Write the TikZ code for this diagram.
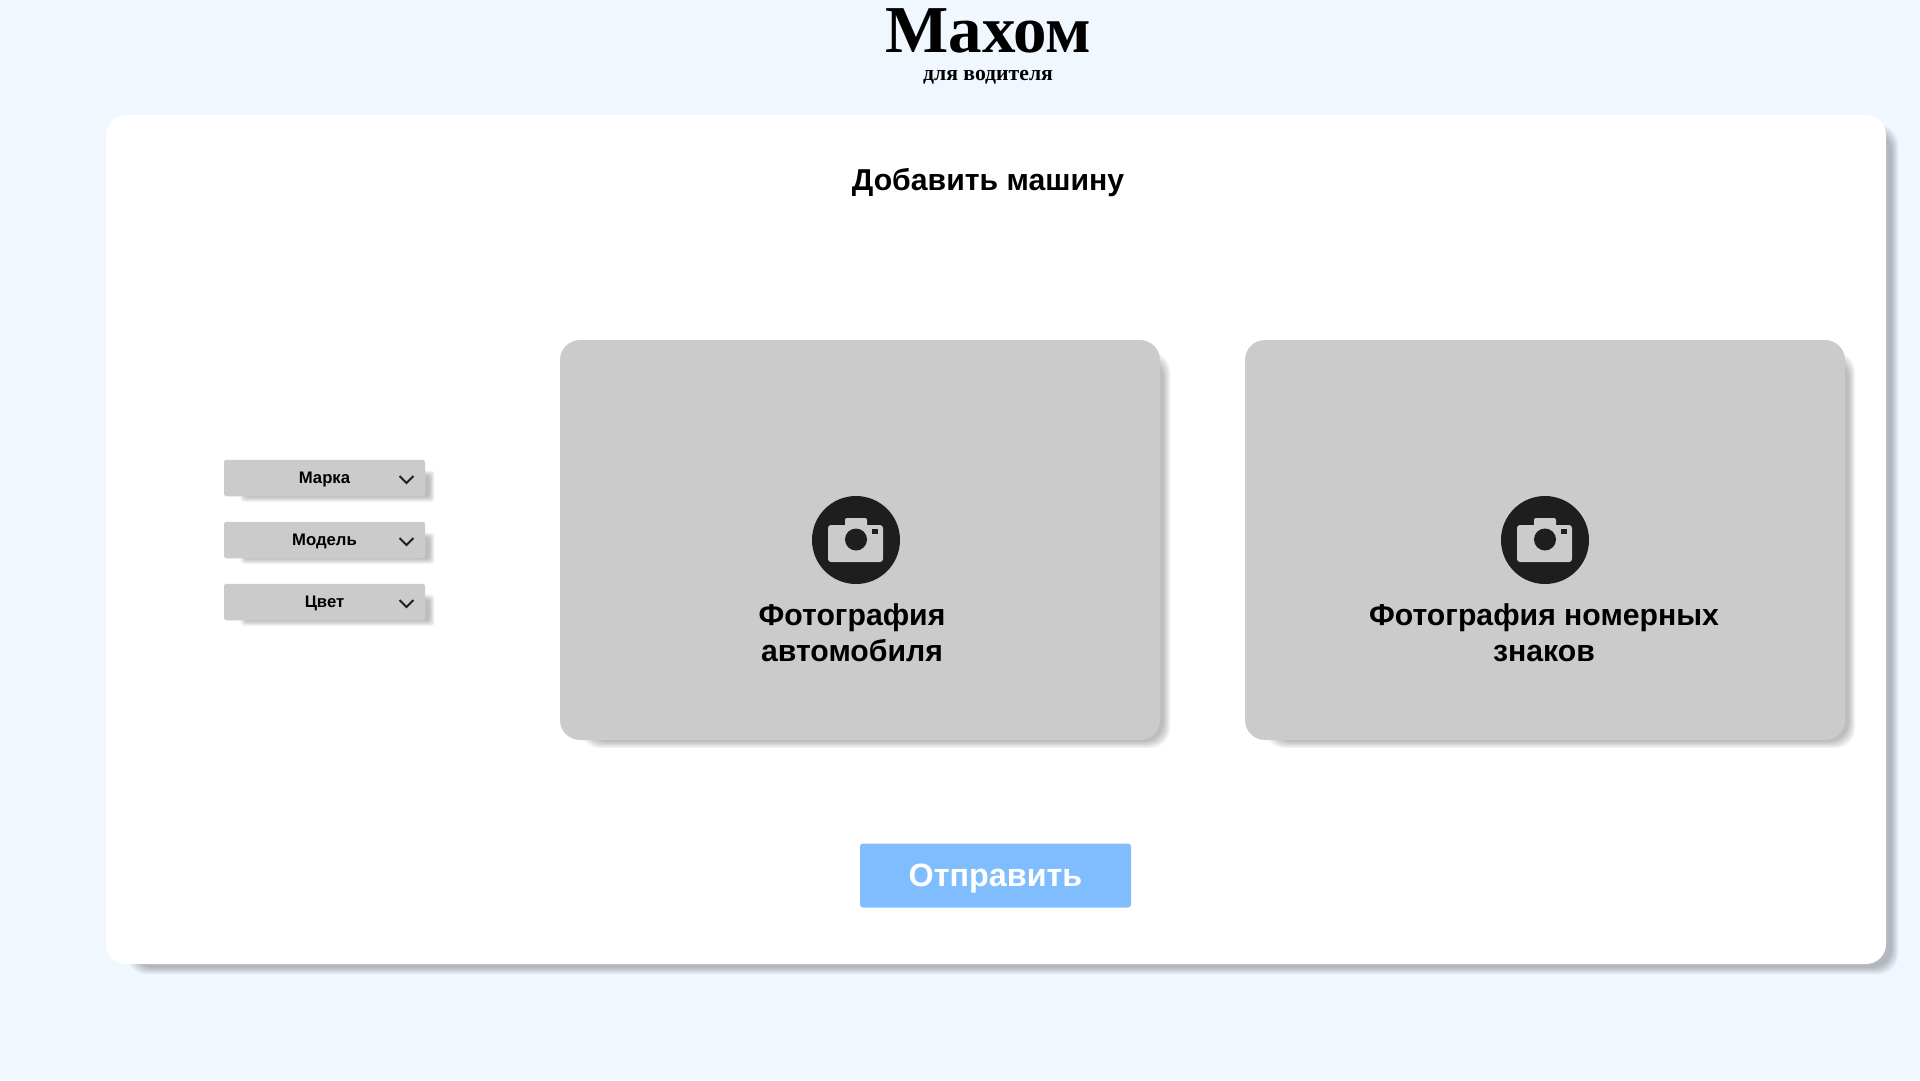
\documentclass[tikz,border=0pt]{standalone}
\usepackage{fontspec}
\setmainfont{Liberation Sans}
\newfontfamily\logofont{Liberation Serif}
\usepackage{xcolor}
\definecolor{mypage}{HTML}{F0F7FF}
\definecolor{mygrey}{HTML}{CBCBCB}
\definecolor{mydark}{HTML}{1E1E1E}
\definecolor{myblue}{HTML}{80BDFF}
\tikzset{
	panel/.style={fill=white,rounded corners=20pt,minimum width=1780pt,minimum height=849pt,inner sep=0pt},
	photobox/.style={fill=mygrey,rounded corners=20pt,minimum width=600pt,minimum height=400pt,inner sep=0pt},
	dropbox/.style={fill=mygrey,rounded corners=2.5pt,minimum width=201pt,minimum height=36.5pt,inner sep=0pt},
	sendbox/.style={fill=myblue,rounded corners=3pt,minimum width=271pt,minimum height=64pt,inner sep=0pt},
	droplabel/.style={font=\fontsize{16.7}{20}\selectfont\bfseries,inner sep=0pt},
	photolabel/.style={font=\fontsize{30.2}{36}\selectfont\bfseries,align=center,inner sep=0pt},
}
% soft shadow: x0 y0 x1 y1 radius blur
\newcommand{\softshadow}[6]{
	\foreach \k in {-2,...,2}
		\fill [black,opacity=0.055,rounded corners=#5pt] ({#1+\k*#6},{#2+\k*#6}) rectangle ({#3-\k*#6},{#4-\k*#6});
}
\begin{document}
\begin{tikzpicture}[x=1pt,y=-1pt]
	\useasboundingbox (0,0) rectangle (1920,1080);
	\fill [mypage] (0,0) rectangle (1920,1080);
	\node [font=\logofont\fontsize{67}{70}\selectfont\bfseries,inner sep=0pt] (logo) at (988.5,31) {Махом};
	\node [font=\logofont\fontsize{21.7}{24}\selectfont\bfseries,inner sep=0pt] (sublogo) at (988,77.5) {для водителя};
	\softshadow{130}{128}{1895}{971}{20}{1.5}
	\node [panel] (card) at (996,539.5) {};
	\node [font=\fontsize{30.2}{36}\selectfont\bfseries,inner sep=0pt] (heading) at (988,183) {Добавить машину};
	% photo boxes
	\softshadow{583}{355}{1167}{745}{20}{1.5}
	\softshadow{1268}{355}{1852}{745}{20}{1.5}
	\node [photobox] (carbox) at (860,540) {};
	\node [photobox] (platebox) at (1545,540) {};
	\foreach \cx in {856,1545} {
		\fill [mydark] (\cx,540) circle (44);
		\fill [mygrey,rounded corners=3pt] (\cx-28,525) rectangle (\cx+27,562);
		\fill [mygrey,rounded corners=2pt] (\cx-11,518) rectangle (\cx+11,530);
		\fill [mydark] (\cx,539.5) circle (11);
		\fill [mydark] (\cx+16,529) rectangle (\cx+22,534);
	}
	\node [photolabel] (carlabel) at (852,632.5) {Фотография\\автомобиля};
	\node [photolabel] (platelabel) at (1544,632.5) {Фотография номерных\\знаков};
	% drop-down lists
	\foreach \y/\name/\text in {478/brand/Марка,540/model/Модель,602/colour/Цвет} {
		\softshadow{243}{\y-5}{432}{\y+21.5}{3}{1.2}
		\node [dropbox] (\name) at (324.5,\y) {};
		\node [droplabel] (\name label) at (324.5,\y+1.5) {\text};
		\draw [mydark,line width=2pt] (399.5,\y-2) -- (406.5,\y+5) -- (413.5,\y-2);
	}
	\node [sendbox] (send) at (995.5,875.5) {};
	\node [font=\fontsize{32.3}{38}\selectfont\bfseries,text=white,inner sep=0pt] (sendlabel) at (995.5,879) {Отправить};
\end{tikzpicture}
\end{document}
